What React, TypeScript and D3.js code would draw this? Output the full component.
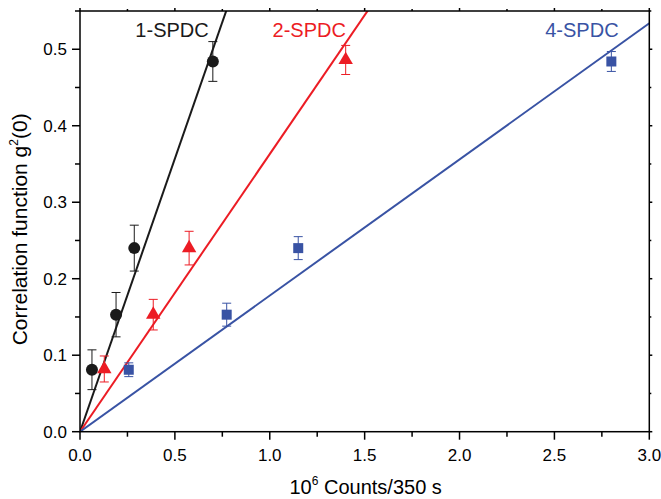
import React from "react";
import * as d3 from "d3";

const seriesNames = ["1-SPDC", "2-SPDC", "4-SPDC"];
const seriesColors = ["#1a1a1a", "#ec1c24", "#3953a4"];
const markers = ["circle", "triangle", "square"];
const fitSlopes = [0.714, 0.363, 0.178];

const x1 = [0.063, 0.19, 0.286, 0.70];
const y1 = [0.081, 0.153, 0.240, 0.484];
const e1 = [0.026, 0.029, 0.030, 0.026];

const x2 = [0.128, 0.386, 0.575, 1.40];
const y2 = [0.082, 0.153, 0.240, 0.486];
const e2 = [0.017, 0.020, 0.022, 0.019];

const x3 = [0.257, 0.773, 1.15, 2.80];
const y3 = [0.081, 0.153, 0.240, 0.484];
const e3 = [0.009, 0.015, 0.015, 0.013];

const labelPos = [[0.485, 0.516], [1.208, 0.516], [2.645, 0.516]];

const xTicks = [0, 0.5, 1.0, 1.5, 2.0, 2.5, 3.0];
const yTicks = [0, 0.1, 0.2, 0.3, 0.4, 0.5];

const W = 661, H = 499;
const L = 80, R = 649.3, T = 11, B = 431.7;
const FONT = "'Liberation Sans', Arial, Helvetica, sans-serif";

export default function App() {
  const x = d3.scaleLinear().domain([0, 3]).range([L, R]);
  const y = d3.scaleLinear().domain([0, 0.55]).range([B, T]);
  const xs = [x1, x2, x3], ys = [y1, y2, y3], es = [e1, e2, e3];
  const xMinor = d3.range(0, 3.001, 0.25).filter((v) => Math.abs(v * 2 - Math.round(v * 2)) > 1e-6);
  const yMinor = d3.range(0.05, 0.551, 0.1);
  const tri = d3.symbol().type(d3.symbolTriangle).size(90)();

  return (
    <svg width={W} height={H} style={{ position: "absolute", left: 0, top: 0, background: "#fff" }}>
      <defs>
        <clipPath id="plot">
          <rect x={L} y={T} width={R - L} height={B - T} />
        </clipPath>
      </defs>
      <rect x={0} y={0} width={W} height={H} fill="#fff" />
      {/* fit lines */}
      <g clipPath="url(#plot)">
        {fitSlopes.map((k, i) => {
          const line = d3.line<number>().x((v) => x(v)).y((v) => y(k * v));
          return <path key={i} d={line([0, 3]) || ""} stroke={seriesColors[i]} strokeWidth={2} fill="none" />;
        })}
      </g>
      {/* error bars and markers */}
      {xs.map((xv, i) => (
        <g key={i}>
          {xv.map((xx, j) => {
            const cx = x(xx), cy = y(ys[i][j]);
            const top = y(ys[i][j] + es[i][j]), bot = y(ys[i][j] - es[i][j]);
            const c = seriesColors[i];
            let m;
            if (markers[i] === "circle") m = <circle cx={cx} cy={cy} r={6} fill={c} />;
            else if (markers[i] === "triangle") m = <path d={tri} transform={`translate(${cx},${cy})`} fill={c} />;
            else m = <rect x={cx - 5} y={cy - 5} width={10} height={10} fill={c} />;
            return (
              <g key={j}>
                <line x1={cx} x2={cx} y1={top} y2={bot} stroke={c} strokeWidth={1} />
                <line x1={cx - 4.5} x2={cx + 4.5} y1={top} y2={top} stroke={c} strokeWidth={1} />
                <line x1={cx - 4.5} x2={cx + 4.5} y1={bot} y2={bot} stroke={c} strokeWidth={1} />
                {m}
              </g>
            );
          })}
        </g>
      ))}
      {/* series labels */}
      {seriesNames.map((n, i) => (
        <text key={n} x={x(labelPos[i][0])} y={y(labelPos[i][1])} fontFamily={FONT} fontSize={20}
          fill={seriesColors[i]} textAnchor="middle">{n}</text>
      ))}
      {/* frame */}
      <rect x={L} y={T} width={R - L} height={B - T} fill="none" stroke="#000" strokeWidth={1.5} />
      {/* x ticks */}
      {xTicks.map((t) => (
        <g key={"xt" + t}>
          <line x1={x(t)} x2={x(t)} y1={B} y2={B + 8} stroke="#000" strokeWidth={1.5} />
          <line x1={x(t)} x2={x(t)} y1={T} y2={T - 3} stroke="#000" strokeWidth={1.5} />
          <text x={x(t)} y={B + 29} fontFamily={FONT} fontSize={17} textAnchor="middle" fill="#000">{t.toFixed(1)}</text>
        </g>
      ))}
      {xMinor.map((t) => (
        <g key={"xm" + t}>
          <line x1={x(t)} x2={x(t)} y1={B} y2={B + 5} stroke="#000" strokeWidth={1.5} />
          <line x1={x(t)} x2={x(t)} y1={T} y2={T - 2} stroke="#000" strokeWidth={1.5} />
        </g>
      ))}
      {/* y ticks */}
      {yTicks.map((t) => (
        <g key={"yt" + t}>
          <line x1={L} x2={L - 8} y1={y(t)} y2={y(t)} stroke="#000" strokeWidth={1.5} />
          <line x1={R} x2={R + 3} y1={y(t)} y2={y(t)} stroke="#000" strokeWidth={1.5} />
          <text x={L - 13} y={y(t) + 6} fontFamily={FONT} fontSize={17} textAnchor="end" fill="#000">{t.toFixed(1)}</text>
        </g>
      ))}
      {yMinor.map((t) => (
        <g key={"ym" + t}>
          <line x1={L} x2={L - 5} y1={y(t)} y2={y(t)} stroke="#000" strokeWidth={1.5} />
          <line x1={R} x2={R + 2} y1={y(t)} y2={y(t)} stroke="#000" strokeWidth={1.5} />
        </g>
      ))}
      {/* axis titles */}
      <text x={(L + R) / 2 + 1} y={494} fontFamily={FONT} fontSize={20} textAnchor="middle" fill="#000">
        10<tspan dy={-9} fontSize={12}>6</tspan><tspan dy={9}> Counts/350 s</tspan>
      </text>
      <text transform={`translate(27,${(B + T) / 2 + 8}) rotate(-90)`} fontFamily={FONT} fontSize={21}
        textAnchor="middle" fill="#000">
        Correlation function g<tspan dy={-9} fontSize={12}>2</tspan><tspan dy={9}>(0)</tspan>
      </text>
    </svg>
  );
}
